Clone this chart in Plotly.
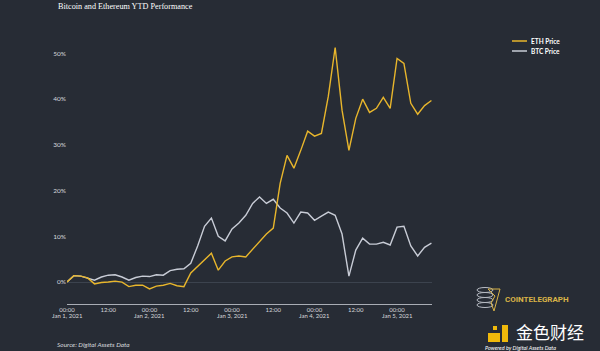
import plotly.graph_objects as go
import pandas as pd

# ---- data (2-hourly, % change YTD) ----
start_time = "2021-01-01 00:00"
n_points = 54
eth_price = [0.0, 1.4, 1.3, 0.9, -0.4, -0.1, 0.0, 0.2, 0.0, -1.0,
             -0.7, -0.7, -1.5, -0.9, -0.7, -0.3, -0.8, -1.0, 2.0, 3.5,
             4.8, 6.3, 2.6, 4.6, 5.5, 5.7, 5.5, 7.2, 8.7, 10.5,
             11.8, 21.6, 27.7, 24.9, 28.8, 33.0, 31.9, 32.5, 40.6, 51.3,
             37.6, 28.8, 35.8, 40.0, 37.1, 38.0, 40.4, 38.0, 48.9, 47.8,
             39.1, 36.7, 38.6, 39.7]
btc_price = [0.0, 1.4, 1.3, 0.9, 0.4, 1.1, 1.5, 1.6, 1.1, 0.4,
             1.0, 1.3, 1.2, 1.6, 1.5, 2.5, 2.8, 2.9, 4.1, 7.9,
             12.2, 14.0, 10.0, 9.0, 11.6, 12.9, 14.6, 17.2, 18.6, 17.2,
             18.1, 16.2, 15.1, 12.9, 15.3, 15.1, 13.5, 14.4, 15.3, 14.6,
             10.5, 1.3, 7.0, 9.6, 8.3, 8.3, 8.7, 8.1, 12.0, 12.2,
             7.9, 5.7, 7.6, 8.5]
series_names = ["ETH Price", "BTC Price"]
tick_vals = ["2021-01-01 00:00", "2021-01-01 12:00", "2021-01-02 00:00", "2021-01-02 12:00",
             "2021-01-03 00:00", "2021-01-03 12:00", "2021-01-04 00:00", "2021-01-04 12:00",
             "2021-01-05 00:00"]
tick_labels = ["00:00", "12:00", "00:00", "12:00", "00:00", "12:00", "00:00", "12:00", "00:00"]
date_vals = ["2021-01-01 00:00", "2021-01-02 00:00", "2021-01-03 00:00",
             "2021-01-04 00:00", "2021-01-05 00:00"]
date_labels = ["Jan 1, 2021", "Jan 2, 2021", "Jan 3, 2021", "Jan 4, 2021", "Jan 5, 2021"]
y_ticks = [0, 10, 20, 30, 40, 50]
y_labels = ["0%", "10%", "20%", "30%", "40%", "50%"]

times = pd.date_range(start_time, periods=n_points, freq="2h")

BG = "#272c35"
ETH_C = "#e8b62c"
BTC_C = "#c8ccd6"
TXT = "#d6d8dc"

W, H = 600, 351
L, R, T, B = 67, 168, 42, 47
PW, PH = W - L - R, H - T - B

def px(x):
    return (x - L) / PW

def py(y):
    return (H - B - y) / PH

fig = go.Figure()
fig.add_trace(go.Scatter(x=times, y=btc_price, mode="lines", name=series_names[1],
                         line=dict(color=BTC_C, width=1.4), showlegend=False))
fig.add_trace(go.Scatter(x=times, y=eth_price, mode="lines", name=series_names[0],
                         line=dict(color=ETH_C, width=1.4), showlegend=False))

shapes = []
annotations = []

# date line of the x tick labels
for dv, dl in zip(date_vals, date_labels):
    annotations.append(dict(xref="x", yref="paper", x=dv, y=py(315.5),
                            xanchor="center", yanchor="middle", showarrow=False,
                            text=dl, font=dict(family="Lato", size=6, color=TXT)))

# manual legend
for i, (name, col) in enumerate(zip(series_names, [ETH_C, BTC_C])):
    yy = 41 + 10 * i
    shapes.append(dict(type="line", xref="paper", yref="paper",
                       x0=px(512), x1=px(527), y0=py(yy), y1=py(yy),
                       line=dict(color=col, width=1.5)))
    annotations.append(dict(xref="paper", yref="paper", x=px(529), y=py(yy),
                            xanchor="left", yanchor="middle", showarrow=False,
                            text="<b>" + name + "</b>",
                            font=dict(family="Lato", size=6.5, color="#ffffff")))

# source
annotations.append(dict(xref="paper", yref="paper", x=px(55), y=py(344),
                        xanchor="left", yanchor="middle", showarrow=False,
                        text="<i>Source: Digital Assets Data</i>",
                        font=dict(family="Lato", size=6.5, color=TXT)))

# Cointelegraph logo
annotations.append(dict(xref="paper", yref="paper", x=px(503), y=py(299),
                        xanchor="left", yanchor="middle", showarrow=False,
                        text="<b>COINTELEGRAPH</b>",
                        font=dict(family="Roboto", size=8, color="#d9b347")))
for k in range(4):
    cy = 305 - 5 * k
    shapes.append(dict(type="circle", xref="paper", yref="paper",
                       x0=px(477), x1=px(493), y0=py(cy + 2.5), y1=py(cy - 2.5),
                       line=dict(color="#b8bcc4", width=1), fillcolor=BG))
shapes.append(dict(type="path", xref="paper", yref="paper",
                   path="M {} {} L {} {} L {} {} L {} {} L {} {} Z".format(
                       px(488), py(289), px(500), py(289), px(494), py(311),
                       px(491), py(303), px(495), py(296)),
                   line=dict(color="#d9b347", width=1), fillcolor="rgba(0,0,0,0)"))

# watermark
shapes.append(dict(type="rect", xref="paper", yref="paper",
                   x0=px(488), x1=px(500), y0=py(342), y1=py(333),
                   line=dict(width=0), fillcolor="#f0b90b"))
shapes.append(dict(type="rect", xref="paper", yref="paper",
                   x0=px(502), x1=px(508), y0=py(342), y1=py(325),
                   line=dict(width=0), fillcolor="#f0b90b"))
shapes.append(dict(type="rect", xref="paper", yref="paper",
                   x0=px(493), x1=px(497), y0=py(330), y1=py(326),
                   line=dict(width=0), fillcolor="#f0b90b"))
annotations.append(dict(xref="paper", yref="paper", x=px(514), y=py(331),
                        xanchor="left", yanchor="middle", showarrow=False,
                        text="金色财经",
                        font=dict(family="Noto Sans CJK SC", size=17, color="#ffffff")))
annotations.append(dict(xref="paper", yref="paper", x=px(483), y=py(347.5),
                        xanchor="left", yanchor="middle", showarrow=False,
                        text="<i>Powered by Digital Assets Data</i>",
                        font=dict(family="Lato", size=5.5, color="#ffffff")))

fig.update_layout(
    width=W, height=H,
    margin=dict(l=L, r=R, t=T, b=B),
    paper_bgcolor=BG, plot_bgcolor=BG,
    title=dict(text="Bitcoin and Ethereum YTD Performance", xref="container", yref="container",
               x=58 / W, y=1 - 6 / H, xanchor="left", yanchor="middle",
               font=dict(family="Liberation Serif", size=8.2, color="#ffffff")),
    shapes=shapes, annotations=annotations,
    xaxis=dict(range=["2021-01-01 00:00", "2021-01-05 10:10"],
               tickvals=tick_vals, ticktext=tick_labels, showgrid=False, zeroline=False,
               showline=True, linecolor="#a9adb5", linewidth=1, ticks="",
               tickfont=dict(family="Lato", size=6, color=TXT)),
    yaxis=dict(range=[-4.8, 52.5], tickvals=y_ticks, ticktext=y_labels, showgrid=False,
               zeroline=True, zerolinecolor="#3c434e", zerolinewidth=1,
               showline=False, ticks="",
               tickfont=dict(family="Lato", size=6.5, color=TXT)),
)

fig.write_html("out.html")
